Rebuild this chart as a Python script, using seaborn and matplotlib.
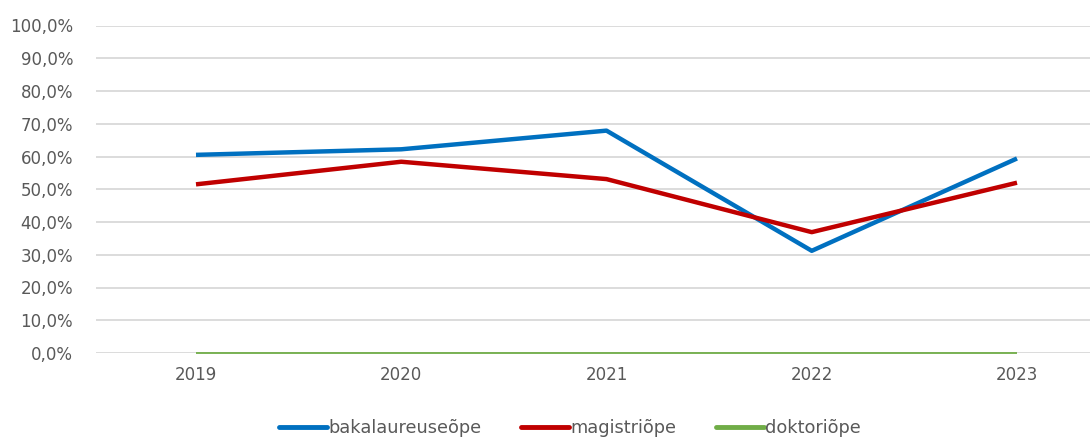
import matplotlib
matplotlib.use("Agg")
import matplotlib.pyplot as plt
import seaborn as sns
import pandas as pd
from matplotlib.lines import Line2D

years = ["2019", "2020", "2021", "2022", "2023"]
bakalaureuseope = [60.5, 62.2, 67.9, 31.2, 59.4]
magistriope = [51.5, 58.4, 53.1, 36.9, 52.0]
doktoriope = [0.0, 0.0, 0.0, 0.0, 0.0]
series_names = ["bakalaureuseõpe", "magistriõpe", "doktoriõpe"]
colors = ["#0070C0", "#C00000", "#70AD47"]
y_ticks = [0, 10, 20, 30, 40, 50, 60, 70, 80, 90, 100]

sns.set_theme(style="white")
plt.rcParams["font.family"] = ["DejaVu Sans"]

rows = []
for name, vals in zip(series_names, [bakalaureuseope, magistriope, doktoriope]):
    for y, v in zip(years, vals):
        rows.append({"year": y, "value": v, "series": name})
df = pd.DataFrame(rows)

fig = plt.figure(figsize=(10.9, 4.37), dpi=100)
W, H = 1090, 437
left_px, right_px, top_px, bot_px = 96, 1090, 25.5, 353
ax = fig.add_axes([left_px / W, 1 - bot_px / H, (right_px - left_px) / W, (bot_px - top_px) / H])

sns.lineplot(data=df, x="year", y="value", hue="series", palette=colors,
             ax=ax, linewidth=3, sort=False, legend=False)
for line, lw in zip(ax.get_lines(), [3.2, 3.2, 1.3]):
    line.set_linewidth(lw)
    line.set_solid_capstyle("butt")
    line.set_zorder(3)
    line.set_clip_on(False)

# x positions: category 0 at 196px, 4 at 1017px
ppu = (1017 - 196) / 4
ax.set_xlim((left_px - 196) / ppu, (right_px - 196) / ppu)
ax.set_ylim(0, 100)
ax.set_yticks(y_ticks)
ax.set_yticklabels([f"{t},0%" for t in y_ticks])
ax.yaxis.grid(True, color="#D9D9D9", linewidth=1.3)
ax.set_axisbelow(True)
for s in ax.spines.values():
    s.set_visible(False)
ax.tick_params(axis="both", length=0, labelsize=12, colors="#595959")
ax.tick_params(axis="y", pad=16.5)
ax.tick_params(axis="x", pad=9)
ax.set_xlabel("")
ax.set_ylabel("")

handles = [Line2D([0], [0], color=c, linewidth=3.5) for c in colors]
fig.legend(handles, series_names, loc="center", bbox_to_anchor=(570 / W, 1 - 428 / H),
           ncol=3, frameon=False, fontsize=12.8, handlelength=2.7, handletextpad=0.1,
           columnspacing=2.2, labelcolor="#595959")

fig.savefig("out.png", dpi=100)
